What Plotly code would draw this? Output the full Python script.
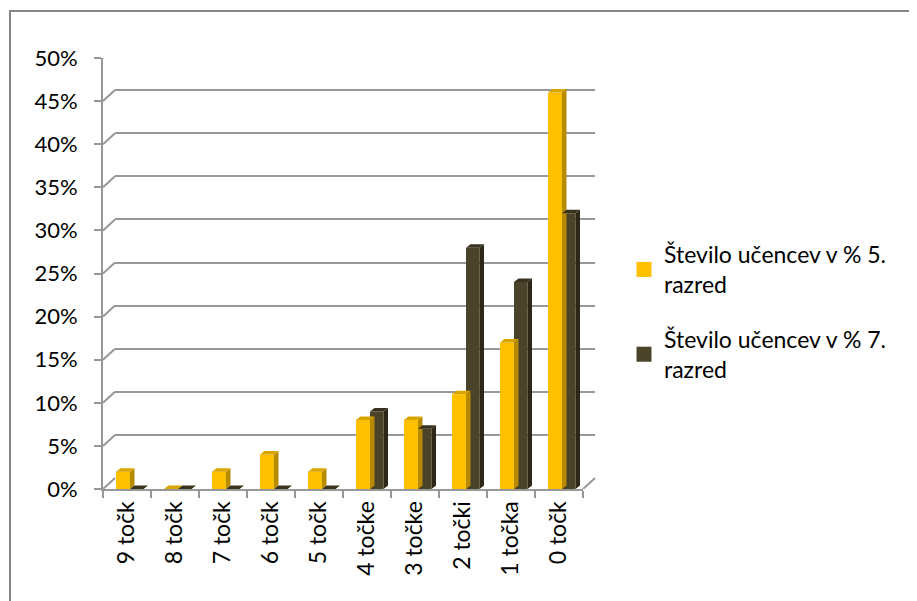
import plotly.graph_objects as go

categories = ["9 točk", "8 točk", "7 točk", "6 točk", "5 točk",
              "4 točke", "3 točke", "2 točki", "1 točka", "0 točk"]
series_names = ["Število učencev v % 5.<br>razred", "Število učencev v % 7.<br>razred"]
grade5 = [0.02, 0.00, 0.02, 0.04, 0.02, 0.08, 0.08, 0.11, 0.17, 0.46]
grade7 = [0.00, 0.00, 0.00, 0.00, 0.00, 0.09, 0.07, 0.28, 0.24, 0.32]
y_ticks = [i * 0.05 for i in range(11)]

# ---- layout geometry (page pixels) ----
W, H = 917, 601
OFF = 8                                  # default body margin of the page
L, R, T, B = 103, 595, 47, 489           # plot area incl. 3D depth
DX, DY = 12, 11                          # back-wall depth offset
FRONT_W = (R - L) - DX                   # 480
FRONT_H = (B - T) - DY                   # 431
PX = 10 / FRONT_W                        # x units per pixel (range width 10)
PY = 0.5 / FRONT_H                       # y units per pixel
BDX, BDY = 4.5, 3.5                      # bar depth

FONT = "Lato, 'Liberation Sans', sans-serif"
GRID = "#979797"

x_idx = list(range(len(categories)))

bar_specs = [
    (grade5, series_names[0], "#FFC000", "#B88A00", "#D9A400", -11 / 48, 14 / 48),
    (grade7, series_names[1], "#4A432A", "#2C2818", "#38321F", 3 / 48, 13.5 / 48),
]

fig = go.Figure()

# dummy trace for back-wall axes
fig.add_trace(go.Scatter(x=[None], y=[None], xaxis="x", yaxis="y",
                         showlegend=False, hoverinfo="skip"))

for vals, name, c_front, c_side, c_top, off, wid in bar_specs:
    fig.add_trace(go.Bar(x=x_idx, y=vals, offset=off, width=wid,
                         marker=dict(color=c_front, line=dict(width=0)),
                         xaxis="x2", yaxis="y2", showlegend=False, name=name))
    sx, sy, tx, ty = [], [], [], []
    for i, v in zip(x_idx, vals):
        x0 = i + off
        x1 = x0 + wid
        sx += [x1, x1 + BDX * PX, x1 + BDX * PX, x1, x1, None]
        sy += [0, BDY * PY, v + BDY * PY, v, 0, None]
        tx += [x0, x1, x1 + BDX * PX, x0 + BDX * PX, x0, None]
        ty += [v, v, v + BDY * PY, v + BDY * PY, v, None]
    fig.add_trace(go.Scatter(x=sx, y=sy, mode="lines", fill="toself",
                             fillcolor=c_side, line=dict(width=0, color=c_side),
                             xaxis="x2", yaxis="y2", showlegend=False, hoverinfo="skip"))
    fig.add_trace(go.Scatter(x=tx, y=ty, mode="lines", fill="toself",
                             fillcolor=c_top, line=dict(width=0, color=c_top),
                             xaxis="x2", yaxis="y2", showlegend=False, hoverinfo="skip"))

# legend entries
for gi, (vals, name, c_front, *_rest) in enumerate(bar_specs):
    fig.add_trace(go.Scatter(x=[None], y=[None], mode="markers", name=name,
                             legendgroup=f"g{gi}",
                             marker=dict(symbol="square", size=15, color=c_front),
                             xaxis="x2", yaxis="y2"))

shapes = []
# diagonal connectors from front axis to back wall
for v in y_ticks:
    shapes.append(dict(type="line", xref="paper", yref="y2",
                       x0=0, x1=DX / (R - L), y0=v, y1=v + DY * PY,
                       line=dict(color=GRID, width=2)))
# right floor diagonal
shapes.append(dict(type="line", xref="paper", yref="y2",
                   x0=FRONT_W / (R - L), x1=1, y0=0, y1=DY * PY,
                   line=dict(color=GRID, width=2)))
# outer chart border (partially outside the page)
shapes.append(dict(type="rect", xref="paper", yref="paper",
                   x0=(10 - L) / (R - L), x1=(1000 - L) / (R - L),
                   y0=(B - 700) / (B - T), y1=(B - 11) / (B - T),
                   line=dict(color="#868686", width=2), fillcolor="rgba(0,0,0,0)"))

fig.update_layout(
    width=W, height=H,
    margin=dict(l=L - OFF, r=W - R + OFF, t=T - OFF, b=H - B + OFF, pad=0),
    paper_bgcolor="white", plot_bgcolor="rgba(0,0,0,0)",
    font=dict(family=FONT, size=23, color="black"),
    barmode="overlay",
    showlegend=True,
    legend=dict(x=(624 - L) / (R - L), y=(B - 233) / (B - T),
                xanchor="left", yanchor="top", xref="paper", yref="paper",
                font=dict(family=FONT, size=23, color="black"),
                tracegroupgap=22, bgcolor="rgba(0,0,0,0)"),
    xaxis=dict(domain=[DX / (R - L), 1], range=[-0.5, 9.5], visible=False,
               anchor="y", fixedrange=True),
    yaxis=dict(domain=[DY / (B - T), 1], range=[0, 0.5], showgrid=True,
               gridcolor=GRID, gridwidth=2, tickvals=y_ticks,
               showticklabels=False, ticks="", zeroline=False, showline=False,
               anchor="x"),
    xaxis2=dict(domain=[0, FRONT_W / (R - L)], range=[-0.5, 9.5], anchor="y2",
                showline=True, linecolor=GRID, linewidth=2, showgrid=False,
                zeroline=False, tickmode="array", tickvals=x_idx, ticktext=categories,
                ticks="", tickangle=-90, ticklabelstandoff=1,
                tickfont=dict(family=FONT, size=23),
                minor=dict(tickmode="array", tickvals=[i - 0.5 for i in range(11)],
                           ticks="outside", ticklen=7, tickwidth=2, tickcolor=GRID,
                           showgrid=False)),
    yaxis2=dict(domain=[0, FRONT_H / (B - T)], range=[0, 0.5], anchor="x2",
                showline=True, linecolor=GRID, linewidth=2, showgrid=False,
                zeroline=False, tickmode="array", tickvals=y_ticks,
                tickformat=".0%", ticks="outside", ticklen=7, tickwidth=2,
                tickcolor=GRID, ticklabelstandoff=12,
                tickfont=dict(family=FONT, size=22)),
    shapes=shapes,
)

fig.write_html("out.html")
